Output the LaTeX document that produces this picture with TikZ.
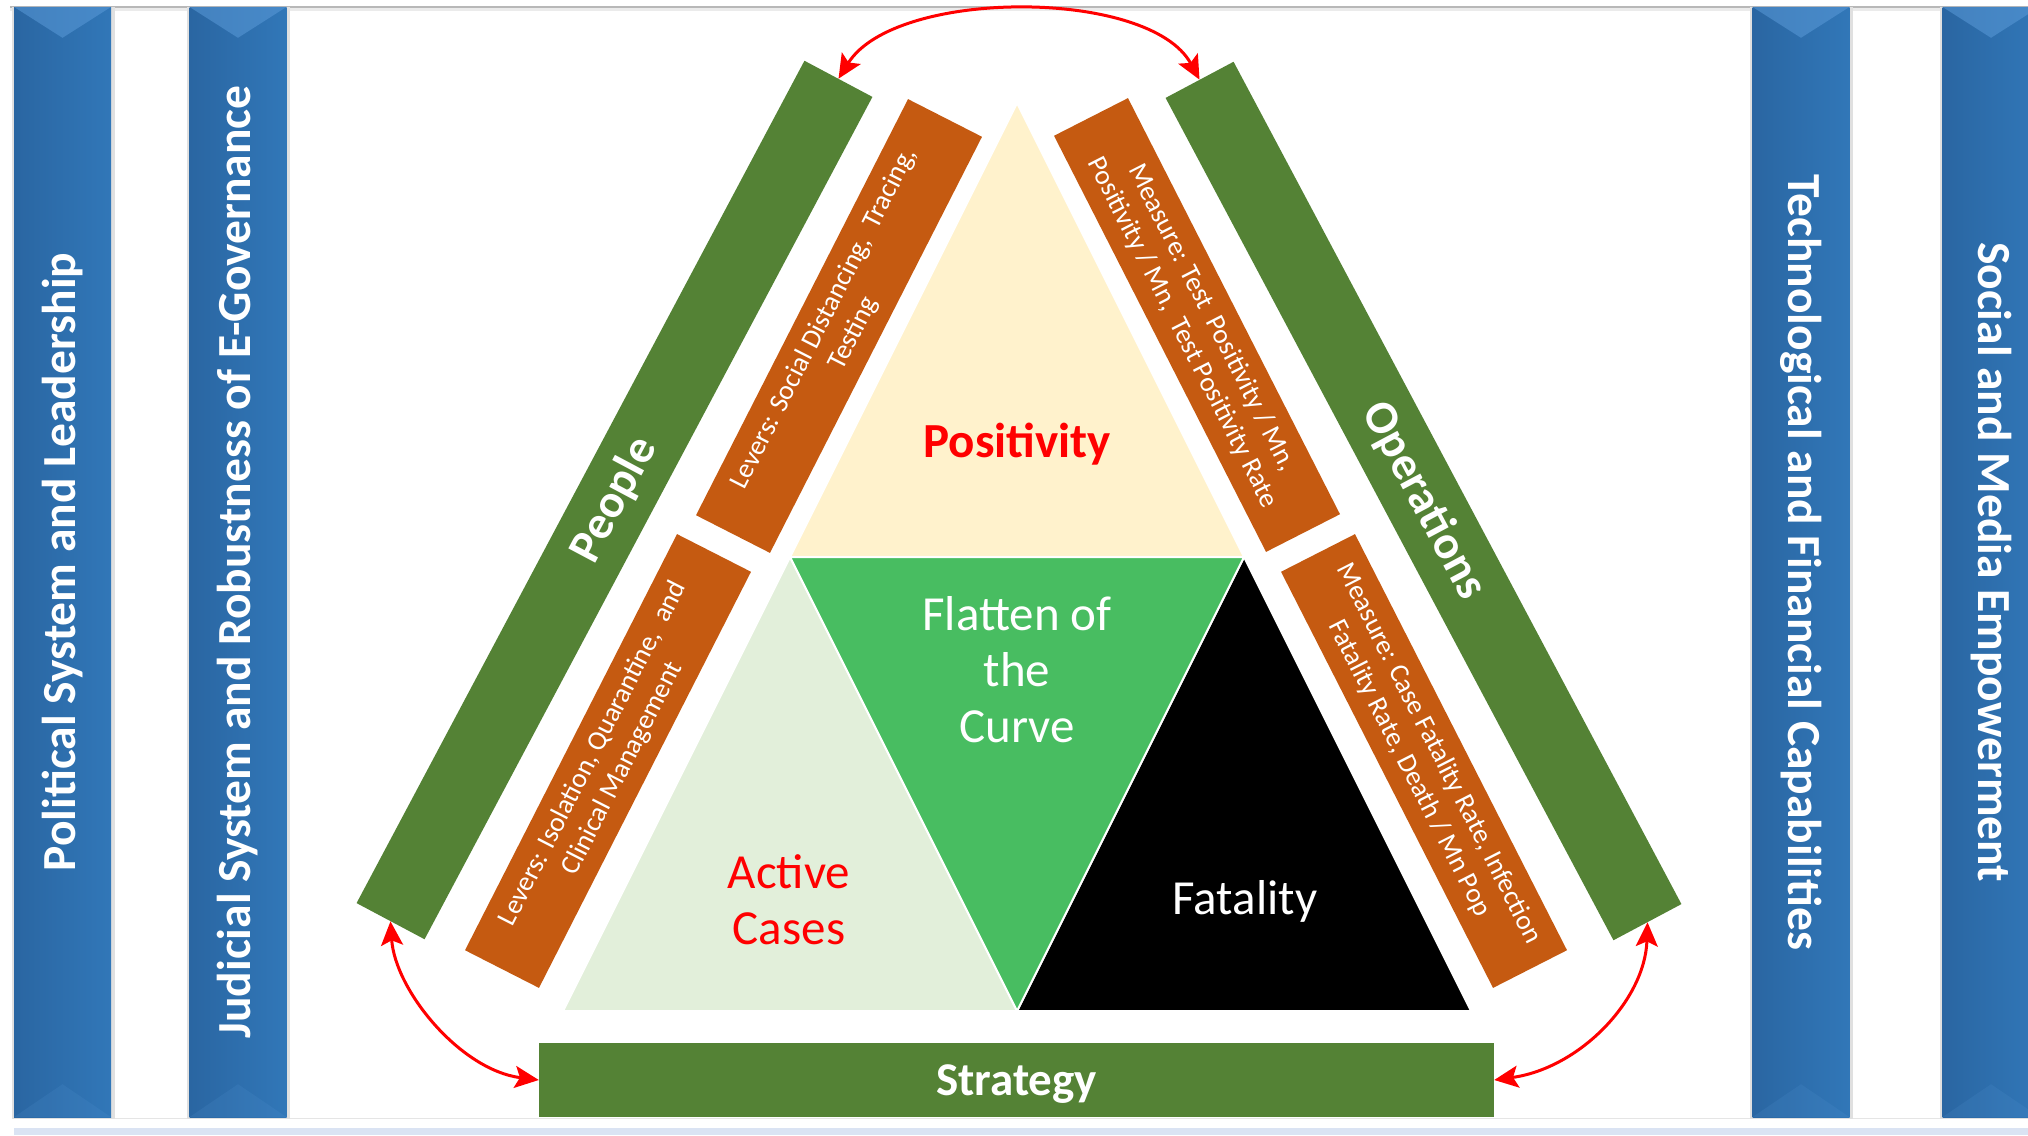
\documentclass[tikz,border=0pt]{standalone}
\usepackage{fontspec}
\setmainfont{Carlito}
\usetikzlibrary{arrows.meta,calc}
\definecolor{pblue}{HTML}{3177B8}
\definecolor{pbluedark}{HTML}{2A66A2}
\definecolor{pbluelight}{HTML}{5A9AD8}
\definecolor{barGreen}{HTML}{548235}
\definecolor{barOrange}{HTML}{C55A11}
\definecolor{cream}{HTML}{FFF2CC}
\definecolor{midGreen}{HTML}{48BD61}
\definecolor{paleGreen}{HTML}{E2EFDA}
\definecolor{stripBlue}{HTML}{DAE3F3}
\begin{document}
\begin{tikzpicture}[x=1pt,y=-1pt,
  pillar/.style={inner sep=0pt, minimum width=97pt, minimum height=1110pt, left color=pbluedark, right color=pblue, draw=none},
  pillartext/.style={text=white, inner sep=0pt, font=\fontsize{47.5}{57}\selectfont\bfseries},
  greenbar/.style={fill=barGreen, inner sep=0pt, minimum width=954pt, minimum height=77pt, text=white, font=\fontsize{47}{56}\selectfont\bfseries},
  orangebar/.style={fill=barOrange, inner sep=0pt, minimum width=467pt, minimum height=83pt, text=white, align=center, font=\fontsize{27.5}{33}\selectfont},
  bigtext/.style={inner sep=0pt, align=center, font=\fontsize{49}{56}\selectfont},
  link/.style={red, line width=3pt, {Stealth[length=24pt,width=22pt,inset=5pt]}-{Stealth[length=24pt,width=22pt,inset=5pt]}},
  tri/.style={draw=white, line width=2pt, line join=miter}
  ]
\useasboundingbox (0,0) rectangle (2028,1135);
\fill[white] (0,0) rectangle (2028,1135);
% frame
\fill[black!8] (10,8) rectangle (2028,11);
\fill[black!28] (10,6) rectangle (2028,8);
\fill[stripBlue] (14,1128) rectangle (2028,1135);
\draw[black!10, line width=1pt] (14,1118) -- (2028,1118);

% pillars
\foreach \n/\x in {p1/62.5, p2/238, p3/1801, p4/1991} {
  \fill[black!12] (\x-51,7) rectangle (\x+52,1119);
  \node[pillar] (\n) at (\x,562) {};
  \fill[pbluelight, opacity=.55] (\n.north west) -- ($(\n.north)+(0,31)$) -- (\n.north east) -- cycle;
  \fill[pbluelight, opacity=.15] (\n.south west) -- ($(\n.south)+(0,-33)$) -- (\n.south east) -- cycle;
}
\node[pillartext, rotate=90] (t1) at (p1.center) {Political System and Leadership};
\node[pillartext, rotate=90] (t2) at (p2.center) {Judicial System and Robustness of E-Governance};
\node[pillartext, rotate=-90] (t3) at (p3.center) {Technological and Financial Capabilities};
\node[pillartext, rotate=-90] (t4) at (p4.center) {Social and Media Empowerment};

% triangles
\coordinate (A) at (1017,103);
\coordinate (ML) at (790,557);
\coordinate (MR) at (1244,557);
\coordinate (BL) at (563,1011);
\coordinate (BC) at (1017,1011);
\coordinate (BR) at (1471,1011);
\filldraw[tri, fill=cream] (A) -- (ML) -- (MR) -- cycle;
\filldraw[tri, fill=paleGreen] (ML) -- (BL) -- (BC) -- cycle;
\filldraw[tri, fill=black] (MR) -- (BC) -- (BR) -- cycle;
\filldraw[tri, fill=midGreen] (ML) -- (MR) -- (BC) -- cycle;

\node[bigtext, red, font=\fontsize{49}{56}\selectfont\bfseries] (pos) at (1017,444) {Positivity};
\node[bigtext, white] (flat) at (1017,670) {Flatten of\\the\\Curve};
\node[bigtext, red] (act) at (789,900) {Active\\Cases};
\node[bigtext, white] (fat) at (1245,901) {Fatality};

% bars
\node[greenbar, rotate=62] (people) at (614.5,500) {People};
\node[greenbar, rotate=-62] (ops) at (1423.5,501) {Operations};
\node[orangebar, rotate=63] (lev1) at (839,326) {Levers: Social Distancing,\ \ Tracing,\\Testing};
\node[orangebar, rotate=63] (lev2) at (608,761) {Levers: Isolation, Quarantine,\ \ and\\Clinical Management};
\node[orangebar, rotate=-63] (mea1) at (1197,325) {Measure: Test\ \ Positivity / Mn,\\Positivity / Mn,\ \ Test Positivity Rate};
\node[orangebar, rotate=-63] (mea2) at (1424,761) {Measure: Case Fatality Rate, Infection\\Fatality Rate, Death / Mn Pop};
\node[fill=barGreen, inner sep=0pt, minimum width=955pt, minimum height=74pt, text=white, font=\fontsize{47}{56}\selectfont\bfseries] (strat) at (1016.5,1080) {};
\node[inner sep=0pt, text=white, font=\fontsize{47}{56}\selectfont\bfseries] (strattext) at ($(strat.center)+(0,4)$) {Strategy};

% connectors
\draw[link] (people.east) .. controls (895,-12) and (1150,-12) .. (ops.west);
\draw[link] (people.west) .. controls (395,990) and (460,1070) .. (strat.west);
\draw[link] (ops.east) .. controls (1645,1000) and (1580,1068) .. (strat.east);
\end{tikzpicture}
\end{document}
